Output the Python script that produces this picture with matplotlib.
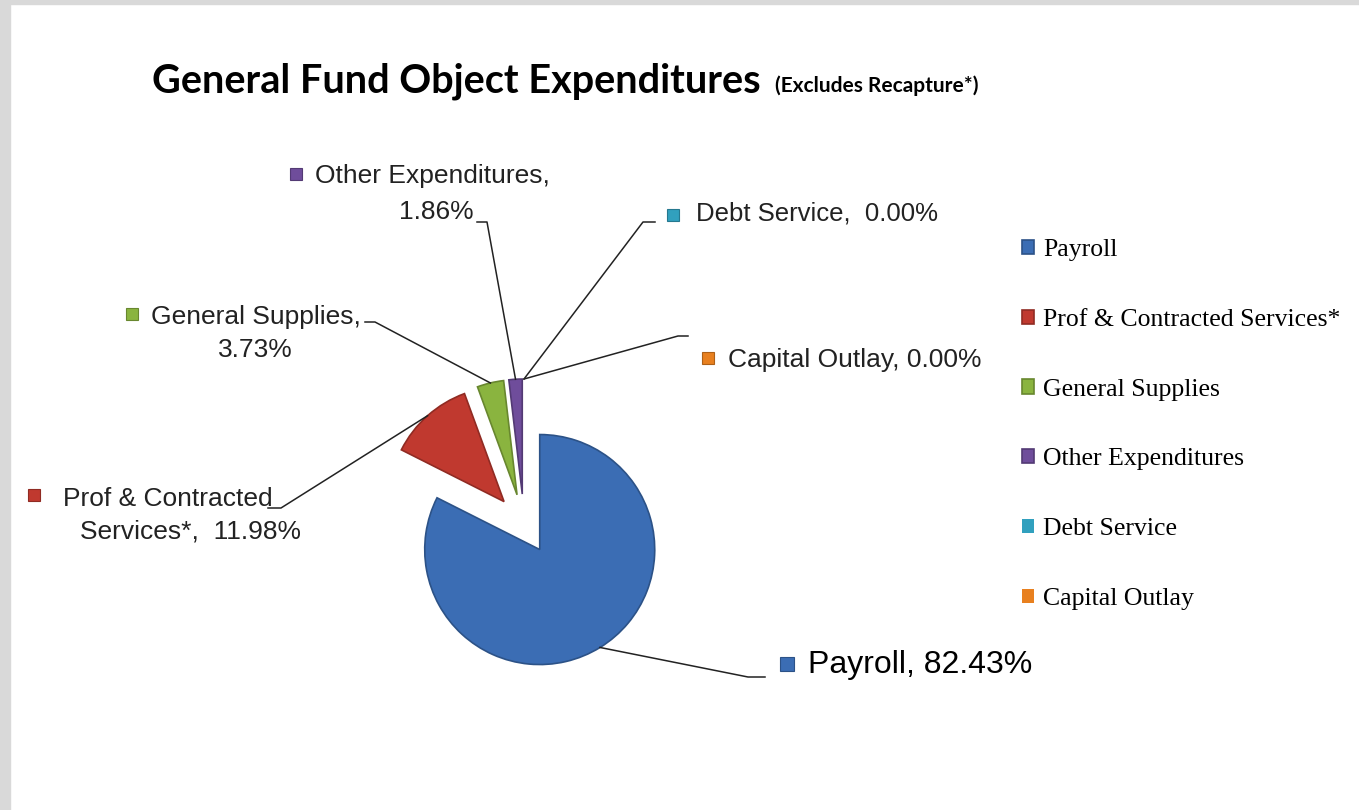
import matplotlib
matplotlib.use('Agg')
import matplotlib.pyplot as plt
from matplotlib.patches import Rectangle
import matplotlib.colors as mcolors
import numpy as np

W, H = 1359, 810

# данные диаграммы
categories = ['Payroll', 'Prof & Contracted Services*', 'General Supplies',
              'Other Expenditures', 'Debt Service', 'Capital Outlay']
shares = [82.43, 11.98, 3.73, 1.86, 0.00, 0.00]
colors = ['#3b6db4', '#c0392f', '#8ab43f', '#6f4d9b', '#31a0be', '#e8801f']


def py(y):
    """перевод y из координат картинки (сверху вниз) в координаты осей"""
    return H - y


def darker(c, k=0.75):
    r, g, b = mcolors.to_rgb(c)
    return (r * k, g * k, b * k)


fig = plt.figure(figsize=(W / 100, H / 100), dpi=100, facecolor='white')
ax = fig.add_axes([0, 0, 1, 1])

wedges, _ = ax.pie(shares, colors=colors, startangle=90, counterclock=False,
                   radius=115, center=(524, py(524)), explode=[30] * len(shares))
for w, c, s in zip(wedges, colors, shares):
    w.set_edgecolor(darker(c))
    w.set_linewidth(1.2 if s > 0 else 0)
ax.set_xlim(0, W)
ax.set_ylim(0, H)
ax.axis('off')

# серая рамка слева и сверху
ax.add_patch(Rectangle((0, 0), 10, H, color='#d9d9d9', zorder=0))
ax.add_patch(Rectangle((0, py(4)), W, 4, color='#d9d9d9', zorder=0))

# заголовок
ax.text(152, py(81), 'General Fund Object Expenditures', fontsize=28.5, fontweight='bold',
        family=['Lato', 'DejaVu Sans'], va='center', ha='left', color='black')
ax.text(775, py(86), '(Excludes Recapture*)', fontsize=15, fontweight='bold',
        family=['Lato', 'DejaVu Sans'], va='center', ha='left', color='black')


def anchor(w):
    t = np.deg2rad((w.theta1 + w.theta2) / 2)
    return w.center[0] + w.r * np.cos(t), w.center[1] + w.r * np.sin(t)


# подписи: (строки текста: текст, x, y, выравнивание), маркер, изгиб выноски, конец выноски
label_font = dict(family=['Liberation Sans', 'DejaVu Sans'], va='center')
labels = [
    ([('Payroll, 82.43%', 808, 665, 'left')], (780, 664), (748, 677), (765, 677), 23, '#000000'),
    ([('Prof & Contracted', 63, 499, 'left'), ('Services*,  11.98%', 80, 531, 'left')],
     (28, 495), (281, 508), (268, 508), 19, '#222222'),
    ([('General Supplies,', 151, 317, 'left'), ('3.73%', 218, 350, 'left')],
     (126, 314), (375, 322), (365, 322), 19, '#222222'),
    ([('Other Expenditures,', 315, 176, 'left'), ('1.86%', 474, 212, 'right')],
     (290, 174), (487, 222), (477, 222), 19, '#222222'),
    ([('Debt Service,  0.00%', 696, 214, 'left')], (667, 215), (643, 222), (655, 222), 18.5, '#222222'),
    ([('Capital Outlay, 0.00%', 728, 360, 'left')], (702, 358), (678, 336), (688, 336), 19, '#222222'),
]

for w, col, (lines, mk, bend, end, fs, tc) in zip(wedges, colors, labels):
    ax0, ay0 = anchor(w)
    ax.plot([ax0, bend[0], end[0]], [ay0, py(bend[1]), py(end[1])], color='#222222', lw=1.1, zorder=3)
    for txt, x, y, ha in lines:
        ax.text(x, py(y), txt, fontsize=fs, color=tc, ha=ha, **label_font)
    sz = 14 if fs > 20 else 12
    ax.add_patch(Rectangle((mk[0], py(mk[1]) - sz / 2), sz, sz, facecolor=col,
                           edgecolor=darker(col), lw=0.8, zorder=3))

# легенда справа
leg = ax.legend(wedges, categories, loc='upper left', bbox_to_anchor=(1022 / W, 1 - 239 / H),
                frameon=False, prop=dict(family='Liberation Serif', size=18.5),
                borderpad=0, borderaxespad=0,
                handlelength=0.47, handleheight=0.47, handletextpad=0.35, labelspacing=1.86)

fig.savefig('out.png', dpi=100, facecolor='white')
